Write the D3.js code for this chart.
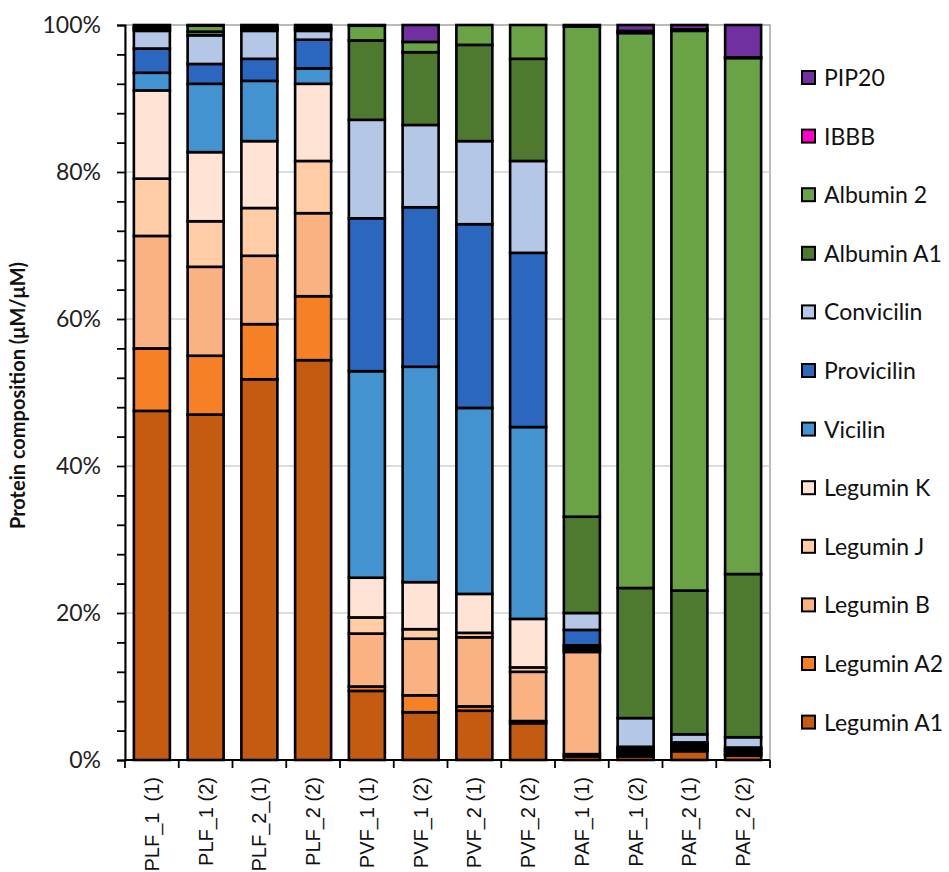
<!DOCTYPE html>
<html>
<head>
<meta charset="utf-8">
<script src="https://cdn.jsdelivr.net/npm/d3@7"></script>
<style>
  html, body { margin: 0; padding: 0; background: #fff; }
  svg { display: block; }
</style>
</head>
<body>
<svg id="chart" width="949" height="872"></svg>
<script>
// Sample names along the x axis
const samples = ["PLF_1  (1)", "PLF_1 (2)", "PLF_2_(1)", "PLF_2 (2)",
                 "PVF_1 (1)", "PVF_1 (2)", "PVF_2 (1)", "PVF_2 (2)",
                 "PAF_1 (1)", "PAF_1 (2)", "PAF_2 (1)", "PAF_2 (2)"];

// Protein fractions (%), stacked bottom to top
const leguminA1  = [47.5, 47.0, 51.8, 54.4,  9.4,  6.5,  6.7,  5.0,  0.5,  0.5,  1.2,  0.6];
const leguminA2  = [ 8.5,  8.0,  7.5,  8.7,  0.6,  2.3,  0.6,  0.3,  0.3,  0.1,  0.1,  0.1];
const leguminB   = [15.3, 12.1,  9.3, 11.3,  7.2,  7.7,  9.4,  6.7, 13.9,  0.3,  0.2,  0.2];
const leguminJ   = [ 7.8,  6.2,  6.5,  7.1,  2.2,  1.3,  0.6,  0.6,  0.3,  0.2,  0.2,  0.2];
const leguminK   = [12.0,  9.4,  9.1, 10.5,  5.4,  6.4,  5.3,  6.6,  0.3,  0.2,  0.2,  0.2];
const vicilin    = [ 2.4,  9.3,  8.2,  2.1, 28.1, 29.3, 25.3, 26.1,  0.3,  0.2,  0.2,  0.2];
const provicilin = [ 3.3,  2.7,  3.0,  3.9, 20.8, 21.7, 25.0, 23.7,  2.1,  0.3,  0.3,  0.2];
const convicilin = [ 2.4,  3.9,  3.8,  1.2, 13.4, 11.2, 11.3, 12.5,  2.3,  3.9,  1.1,  1.4];
const albuminA1  = [ 0.3,  0.5,  0.2,  0.3, 10.8,  9.9, 13.1, 13.9, 13.1, 17.7, 19.6, 22.2];
const albumin2   = [ 0.2,  0.8,  0.2,  0.2,  2.0,  1.4,  2.7,  4.6, 66.7, 75.5, 76.3, 70.2];
const ibbb       = [ 0.0,  0.0,  0.1,  0.0,  0.0,  0.0,  0.0,  0.0,  0.0,  0.3,  0.2,  0.1];
const pip20      = [ 0.3,  0.1,  0.3,  0.3,  0.1,  2.3,  0.0,  0.0,  0.2,  0.8,  0.6,  4.4];

const seriesNames  = ["Legumin A1", "Legumin A2", "Legumin B", "Legumin J", "Legumin K",
                      "Vicilin", "Provicilin", "Convicilin", "Albumin A1", "Albumin 2", "IBBB", "PIP20"];
const seriesValues = [leguminA1, leguminA2, leguminB, leguminJ, leguminK,
                      vicilin, provicilin, convicilin, albuminA1, albumin2, ibbb, pip20];
const seriesColors = ["#C55A11", "#F58025", "#FBB283", "#FFCCA6", "#FFE4D6",
                      "#4393D0", "#2B67BF", "#B4C7E7", "#4E7A30", "#6AA345", "#FF00CC", "#7030A0"];

const yTicks = [0, 0.2, 0.4, 0.6, 0.8, 1.0];

// Rows for d3.stack
const rows = samples.map((s, i) => {
  const r = { sample: s };
  seriesNames.forEach((n, k) => { r[n] = seriesValues[k][i]; });
  return r;
});

const svg = d3.select("#chart");
const margin = { left: 125, right: 179, top: 25, bottom: 112 };
const W = 949, H = 872;
const x0 = margin.left, x1 = W - margin.right, y0 = H - margin.bottom, y1 = margin.top;

const x = d3.scaleBand().domain(samples).range([x0, x1]).paddingInner(0.33).paddingOuter(0.165);
const y = d3.scaleLinear().domain([0, 1]).range([y0, y1]);

const stack = d3.stack().keys(seriesNames).offset(d3.stackOffsetExpand);
const layers = stack(rows);

// Plot frame and gridlines
svg.append("rect").attr("x", x0).attr("y", y1).attr("width", x1 - x0).attr("height", y0 - y1)
  .attr("fill", "none").attr("stroke", "#8c8c8c").attr("stroke-width", 1.2);

svg.append("g").selectAll("line").data(yTicks.filter(t => t > 0 && t < 1)).join("line")
  .attr("x1", x0).attr("x2", x1)
  .attr("y1", d => y(d)).attr("y2", d => y(d))
  .attr("stroke", "#d0d0d0").attr("stroke-width", 1.5);

// Stacked bars
svg.append("g").selectAll("g").data(layers).join("g")
  .attr("fill", (d, i) => seriesColors[i])
  .selectAll("rect").data(d => d).join("rect")
  .attr("x", d => x(d.data.sample))
  .attr("width", x.bandwidth())
  .attr("y", d => y(d[1]))
  .attr("height", d => Math.max(0, y(d[0]) - y(d[1])))
  .attr("stroke", "#000").attr("stroke-width", 2.6);

// Y axis with minor ticks every 4 %
const yAxis = d3.axisLeft(y).tickValues(d3.range(0, 1.0001, 0.04))
  .tickFormat(d => (Math.round(d * 100) % 20 === 0) ? d3.format(".0%")(d) : "")
  .tickSize(8).tickPadding(16);
const gy = svg.append("g").attr("transform", `translate(${x0},0)`).call(yAxis);
gy.select(".domain").attr("stroke", "#000").attr("stroke-width", 2);
gy.selectAll(".tick line").attr("stroke", "#000").attr("stroke-width", 1.8);
gy.selectAll(".tick text").attr("font-family", "Lato, 'Open Sans', sans-serif")
  .attr("font-size", 23).attr("fill", "#222");

// X axis: ticks at category boundaries, rotated labels
const bounds = d3.range(samples.length + 1).map(i => x0 + i * (x1 - x0) / samples.length);
svg.append("line").attr("x1", x0).attr("x2", x1).attr("y1", y0).attr("y2", y0)
  .attr("stroke", "#000").attr("stroke-width", 2);
svg.append("g").selectAll("line").data(bounds).join("line")
  .attr("x1", d => d).attr("x2", d => d).attr("y1", y0).attr("y2", y0 + 8)
  .attr("stroke", "#000").attr("stroke-width", 1.8);
svg.append("g").selectAll("text").data(samples).join("text")
  .attr("transform", d => `translate(${x(d) + x.bandwidth() / 2 + 7},${y0 + 17}) rotate(-90)`)
  .attr("text-anchor", "end")
  .attr("font-family", "'Liberation Sans', Arial, sans-serif")
  .attr("font-size", 20).attr("fill", "#111")
  .style("white-space", "pre")
  .text(d => d);

// Y axis title
svg.append("text")
  .attr("transform", `translate(25,${(y0 + y1) / 2 + 3}) rotate(-90)`)
  .attr("text-anchor", "middle")
  .attr("font-family", "Lato, 'Open Sans', sans-serif")
  .attr("font-weight", "bold").attr("font-size", 20).attr("fill", "#111")
  .text("Protein composition (\u03bcM/\u03bcM)");

// Legend, top item = last stacked series
const legendItems = seriesNames.map((n, i) => ({ name: n, color: seriesColors[i] })).reverse();
const legend = svg.append("g").selectAll("g").data(legendItems).join("g")
  .attr("transform", (d, i) => `translate(802,${78 + i * 58.6})`);
legend.append("rect").attr("x", 0).attr("y", -7).attr("width", 13).attr("height", 13)
  .attr("fill", d => d.color).attr("stroke", "#000").attr("stroke-width", 2);
legend.append("text").attr("x", 22).attr("y", 0).attr("dy", "0.35em")
  .attr("font-family", "Lato, 'Open Sans', sans-serif")
  .attr("font-size", 23).attr("fill", "#111")
  .text(d => d.name);
</script>
</body>
</html>
